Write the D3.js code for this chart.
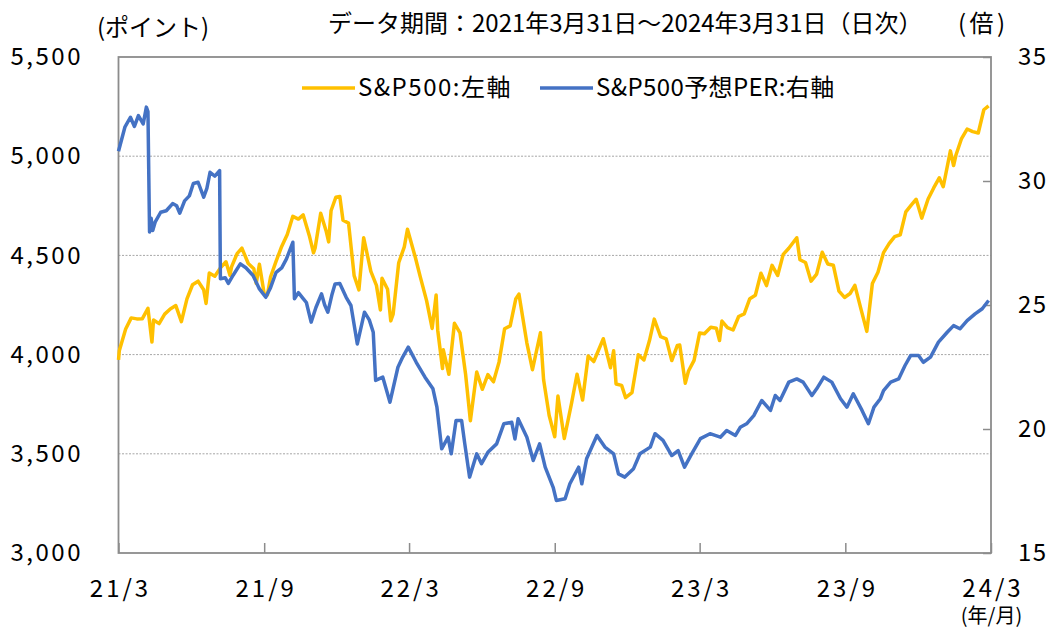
<!DOCTYPE html>
<html>
<head>
<meta charset="utf-8">
<script src="https://cdn.jsdelivr.net/npm/d3@7"></script>
<style>
    body { margin: 0; background: #fff; }
    svg text { font-family: "Noto Sans CJK JP", "Noto Sans", sans-serif; fill: #000; }
</style>
</head>
<body>
<svg id="chart" width="1058" height="628"></svg>
<script>
// S&P500 (left axis, points)
const spDates = [
    "2021-03-31","2021-04-01","2021-04-09","2021-04-16","2021-04-23","2021-04-30","2021-05-07","2021-05-12","2021-05-14","2021-05-21",
    "2021-05-28","2021-06-04","2021-06-11","2021-06-18","2021-06-25","2021-07-02","2021-07-09","2021-07-16","2021-07-19","2021-07-23",
    "2021-07-30","2021-08-06","2021-08-13","2021-08-18","2021-08-20","2021-08-27","2021-09-02","2021-09-10","2021-09-17","2021-09-20",
    "2021-09-24","2021-09-30","2021-10-04","2021-10-08","2021-10-15","2021-10-22","2021-10-29","2021-11-05","2021-11-12","2021-11-18",
    "2021-11-26","2021-12-01","2021-12-03","2021-12-10","2021-12-17","2021-12-20","2021-12-23","2021-12-29","2022-01-03","2022-01-07",
    "2022-01-14","2022-01-21","2022-01-27","2022-02-02","2022-02-11","2022-02-18","2022-02-23","2022-02-25","2022-03-04","2022-03-08",
    "2022-03-11","2022-03-18","2022-03-25","2022-03-29","2022-04-08","2022-04-14","2022-04-22","2022-04-29","2022-05-04","2022-05-06",
    "2022-05-12","2022-05-13","2022-05-20","2022-05-27","2022-06-03","2022-06-10","2022-06-16","2022-06-24","2022-07-01","2022-07-08",
    "2022-07-15","2022-07-22","2022-07-29","2022-08-05","2022-08-12","2022-08-16","2022-08-26","2022-09-02","2022-09-12","2022-09-16",
    "2022-09-23","2022-09-30","2022-10-04","2022-10-12","2022-10-21","2022-10-28","2022-11-04","2022-11-11","2022-11-18","2022-11-30",
    "2022-12-09","2022-12-13","2022-12-16","2022-12-23","2022-12-28","2023-01-05","2023-01-13","2023-01-20","2023-01-27","2023-02-02",
    "2023-02-10","2023-02-17","2023-02-24","2023-03-03","2023-03-06","2023-03-13","2023-03-17","2023-03-24","2023-03-31","2023-04-06",
    "2023-04-14","2023-04-21","2023-04-25","2023-04-28","2023-05-05","2023-05-12","2023-05-19","2023-05-26","2023-06-02","2023-06-09",
    "2023-06-16","2023-06-23","2023-06-30","2023-07-07","2023-07-14","2023-07-21","2023-07-31","2023-08-04","2023-08-11","2023-08-18",
    "2023-08-25","2023-09-01","2023-09-08","2023-09-15","2023-09-22","2023-09-29","2023-10-06","2023-10-12","2023-10-20","2023-10-27",
    "2023-11-03","2023-11-10","2023-11-17","2023-11-24","2023-12-01","2023-12-08","2023-12-15","2023-12-22","2023-12-28","2024-01-04",
    "2024-01-12","2024-01-19","2024-01-26","2024-01-31","2024-02-09","2024-02-13","2024-02-16","2024-02-23","2024-03-01","2024-03-08",
    "2024-03-15","2024-03-22","2024-03-28"
];
const spValues = [
    3973,4020,4129,4185,4180,4181,4233,4063,4174,4156,
    4204,4230,4247,4166,4281,4352,4370,4327,4258,4411,
    4395,4437,4468,4400,4442,4509,4537,4459,4433,4358,
    4455,4307,4300,4391,4471,4545,4605,4697,4683,4704,
    4595,4513,4538,4712,4620,4568,4725,4793,4797,4677,
    4663,4398,4326,4589,4419,4349,4225,4385,4329,4170,
    4204,4463,4543,4632,4488,4393,4272,4132,4300,4123,
    3930,4024,3901,4158,4109,3901,3667,3912,3825,3899,
    3863,3962,4130,4145,4280,4305,4058,3924,4110,3873,
    3693,3586,3791,3577,3753,3901,3771,3993,3965,4080,
    3934,4019,3852,3845,3783,3808,3999,3973,4071,4179,
    4090,4079,3970,4046,4048,3856,3917,3971,4109,4105,
    4138,4133,4071,4169,4136,4124,4192,4205,4282,4299,
    4410,4348,4450,4399,4505,4536,4589,4478,4464,4370,
    4406,4516,4457,4450,4320,4288,4308,4349,4224,4117,
    4358,4415,4514,4559,4595,4604,4719,4755,4783,4688,
    4784,4840,4891,4846,5027,4953,5006,5089,5137,5124,
    5117,5234,5254
];

// S&P500 forward PER (right axis, times)
const perDates = [
    "2021-03-31","2021-04-08","2021-04-15","2021-04-20","2021-04-25","2021-05-01","2021-05-05","2021-05-07","2021-05-09","2021-05-11",
    "2021-05-13","2021-05-16","2021-05-23","2021-05-30","2021-06-07","2021-06-12","2021-06-16","2021-06-22","2021-06-28","2021-07-03",
    "2021-07-09","2021-07-16","2021-07-20","2021-07-24","2021-07-30","2021-08-05","2021-08-06","2021-08-12","2021-08-16","2021-08-22",
    "2021-08-31","2021-09-07","2021-09-16","2021-09-24","2021-10-02","2021-10-08","2021-10-15","2021-10-22","2021-10-28","2021-11-05",
    "2021-11-07","2021-11-12","2021-11-18","2021-11-22","2021-11-28","2021-12-04","2021-12-11","2021-12-15","2021-12-19","2021-12-24",
    "2021-12-28","2022-01-03","2022-01-11","2022-01-17","2022-01-25","2022-02-03","2022-02-09","2022-02-14","2022-02-17","2022-02-26",
    "2022-03-07","2022-03-17","2022-03-23","2022-03-30","2022-04-04","2022-04-09","2022-04-20","2022-04-30","2022-05-05","2022-05-11",
    "2022-05-19","2022-05-23","2022-05-29","2022-06-05","2022-06-09","2022-06-15","2022-06-24","2022-06-30","2022-07-08","2022-07-19",
    "2022-07-28","2022-08-07","2022-08-11","2022-08-15","2022-08-26","2022-09-03","2022-09-11","2022-09-18","2022-09-28","2022-10-02",
    "2022-10-13","2022-10-19","2022-10-30","2022-11-03","2022-11-09","2022-11-22","2022-12-02","2022-12-13","2022-12-19","2022-12-27",
    "2023-01-07","2023-01-15","2023-01-28","2023-02-03","2023-02-13","2023-02-24","2023-03-04","2023-03-12","2023-03-21","2023-04-01",
    "2023-04-13","2023-04-26","2023-05-04","2023-05-15","2023-05-21","2023-05-29","2023-06-07","2023-06-17","2023-06-28","2023-07-04",
    "2023-07-10","2023-07-21","2023-07-31","2023-08-08","2023-08-19","2023-08-25","2023-09-03","2023-09-13","2023-09-24","2023-10-02",
    "2023-10-10","2023-10-21","2023-10-29","2023-11-05","2023-11-13","2023-11-17","2023-11-26","2023-12-06","2023-12-14","2023-12-21",
    "2023-12-31","2024-01-06","2024-01-15","2024-01-25","2024-02-05","2024-02-13","2024-02-21","2024-03-01","2024-03-11","2024-03-20",
    "2024-03-28"
];
const perValues = [
    31.2,32.17,32.57,32.2,32.64,32.3,32.98,32.8,27.94,28.5,
    28.0,28.34,28.74,28.8,29.09,29.0,28.7,29.2,29.4,29.9,
    29.95,29.35,29.7,30.35,30.2,30.42,26.06,26.1,25.87,26.2,
    26.66,26.5,26.19,25.65,25.31,25.7,26.32,26.5,26.86,27.53,
    25.25,25.5,25.26,25.1,24.31,24.9,25.45,25.0,24.71,25.4,
    25.85,25.87,25.31,24.98,23.43,24.71,24.4,23.9,21.96,22.09,
    21.08,22.49,22.9,23.3,23.0,22.69,22.09,21.62,20.88,19.2,
    19.67,19.0,20.34,20.34,19.4,18.06,19.0,18.6,19.06,19.4,
    20.21,20.27,19.6,20.41,19.67,18.73,19.4,18.46,17.65,17.12,
    17.19,17.79,18.46,17.79,18.8,19.74,19.27,19.0,18.19,18.06,
    18.4,19.0,19.27,19.81,19.54,18.93,19.13,18.46,19.0,19.61,
    19.81,19.67,19.94,19.74,20.07,20.21,20.54,21.15,20.75,21.35,
    21.15,21.89,22.02,21.89,21.35,21.62,22.09,21.89,21.22,20.88,
    21.42,20.75,20.21,20.88,21.22,21.55,21.89,22.02,22.56,22.96,
    22.96,22.69,22.9,23.5,23.9,24.17,24.04,24.37,24.64,24.85,
    25.18
];

const leftTicks = [3000, 3500, 4000, 4500, 5000, 5500];
const rightTicks = [15, 20, 25, 30, 35];
const xTickDates = ["2021-03-31","2021-09-30","2022-03-31","2022-09-30","2023-03-31","2023-09-30","2024-03-31"];
const xTickLabels = ["21/3","21/9","22/3","22/9","23/3","23/9","24/3"];

const parse = d3.timeParse("%Y-%m-%d");
const plot = {left: 118.5, right: 991, top: 57, bottom: 553};
const colors = {sp: "#FFC000", per: "#4472C4", frame: "#8c8c8c", grid: "#a6a6a6"};

const spData = spDates.map((d, i) => ({date: parse(d), value: spValues[i]}));
const perData = perDates.map((d, i) => ({date: parse(d), value: perValues[i]}));

const x = d3.scaleTime()
    .domain([parse("2021-03-31"), parse("2024-03-31")])
    .range([plot.left, plot.right]);
const yLeft = d3.scaleLinear().domain([3000, 5500]).range([plot.bottom, plot.top]);
const yRight = d3.scaleLinear().domain([15, 35]).range([plot.bottom, plot.top]);

const svg = d3.select("#chart");

// dotted grid lines (left axis values)
svg.append("g")
    .selectAll("line")
    .data(leftTicks.slice(1, -1))
    .enter()
    .append("line")
    .attr("x1", plot.left)
    .attr("x2", plot.right)
    .attr("y1", d => yLeft(d))
    .attr("y2", d => yLeft(d))
    .attr("stroke", colors.grid)
    .attr("stroke-width", 1)
    .attr("stroke-dasharray", "2,1.5");

// left axis labels
const gLeft = svg.append("g")
    .attr("transform", `translate(${plot.left},0)`)
    .call(d3.axisLeft(yLeft).tickValues(leftTicks).tickSize(0).tickPadding(38).tickFormat(d3.format(",")));
gLeft.select(".domain").remove();

// right axis with inner ticks
const gRight = svg.append("g")
    .attr("transform", `translate(${plot.right},0)`)
    .call(d3.axisRight(yRight).tickValues(rightTicks).tickSize(-8).tickPadding(27));
gRight.select(".domain").remove();

// bottom axis with inner ticks
const gBottom = svg.append("g")
    .attr("transform", `translate(0,${plot.bottom})`)
    .call(d3.axisBottom(x)
        .tickValues(xTickDates.map(parse))
        .tickSize(-10)
        .tickPadding(27)
        .tickFormat((d, i) => xTickLabels[i]));
gBottom.select(".domain").remove();

[gLeft, gRight, gBottom].forEach(g => {
    g.selectAll("text").attr("font-size", 24).attr("font-family", null).attr("fill", "#000");
    g.selectAll("line").attr("stroke", colors.frame).attr("stroke-width", 1.5);
});
// the reference digits run wider than Noto's
gLeft.selectAll("text").attr("letter-spacing", 2.5).attr("dx", 2.5);
gRight.selectAll("text").attr("letter-spacing", 1.5);
gBottom.selectAll("text").attr("letter-spacing", 3).attr("dx", 1.5);

// unit under the last date label, as a second line of the same text
gBottom.selectAll(".tick text")
    .filter((d, i) => i === xTickLabels.length - 1)
    .append("tspan")
    .attr("x", 0)
    .attr("dx", 0)
    .attr("dy", 26)
    .attr("font-size", 20)
    .attr("letter-spacing", 0)
    .text("(年/月)");

// frame
svg.append("rect")
    .attr("x", plot.left)
    .attr("y", plot.top)
    .attr("width", plot.right - plot.left)
    .attr("height", plot.bottom - plot.top)
    .attr("fill", "none")
    .attr("stroke", colors.frame)
    .attr("stroke-width", 1.8);

// series
const lineSp = d3.line().x(d => x(d.date)).y(d => yLeft(d.value));
const linePer = d3.line().x(d => x(d.date)).y(d => yRight(d.value));

svg.append("path")
    .datum(spData)
    .attr("d", lineSp)
    .attr("fill", "none")
    .attr("stroke", colors.sp)
    .attr("stroke-width", 3.5)
    .attr("stroke-linejoin", "round");

svg.append("path")
    .datum(perData)
    .attr("d", linePer)
    .attr("fill", "none")
    .attr("stroke", colors.per)
    .attr("stroke-width", 3.5)
    .attr("stroke-linejoin", "round");

// legend
const legend = [
    {label: "S&P500:左軸", color: colors.sp, x: 302, spacing: 1.5},
    {label: "S&P500予想PER:右軸", color: colors.per, x: 540, spacing: 0.4}
];
const lg = svg.append("g")
    .selectAll("g")
    .data(legend)
    .enter()
    .append("g")
    .attr("transform", d => `translate(${d.x},88)`);
lg.append("line")
    .attr("x1", 0).attr("x2", 53)
    .attr("stroke", d => d.color)
    .attr("stroke-width", 3.5);
lg.append("text")
    .attr("x", 56)
    .attr("y", 8)
    .attr("font-size", 24)
    .attr("letter-spacing", d => d.spacing)
    .text(d => d.label);

// titles and units
svg.append("text").attr("x", 97).attr("y", 36).attr("font-size", 24).text("(ポイント)");
svg.append("text").attr("x", 328).attr("y", 32).attr("font-size", 24)
    .text("データ期間：2021年3月31日～2024年3月31日（日次）");
svg.append("text").attr("x", 958).attr("y", 32).attr("font-size", 24)
    .attr("letter-spacing", 3.5).text("(倍)");
</script>
</body>
</html>
